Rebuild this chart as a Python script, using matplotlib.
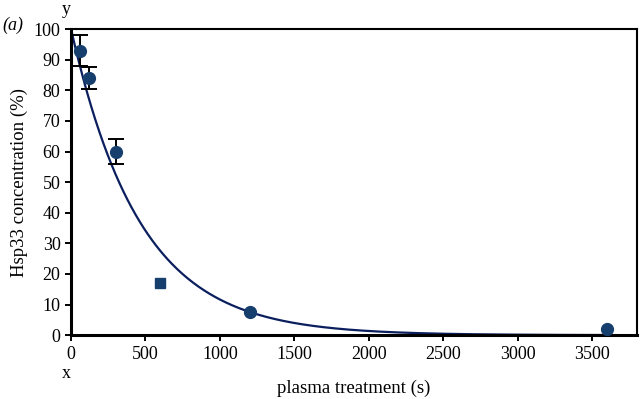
import matplotlib
matplotlib.use("Agg")
import matplotlib.pyplot as plt
import numpy as np

# measured points (circles with error bars)
times = [60, 120, 300, 1200, 3600]
conc = [93, 84, 60, 7.5, 2]
conc_err = [5, 3.5, 4.2, 0, 0]
# square point
sq_time = [600]
sq_conc = [17]
# exponential fit y = a * exp(-k t)
fit_a = 100
fit_k = 0.00215

plt.rcParams["font.family"] = ["Liberation Serif", "DejaVu Serif"]

fig = plt.figure(figsize=(6.4, 3.99), dpi=100)
ax = fig.add_axes([0.111, 0.160, 0.884, 0.767])

t = np.linspace(0, 3600, 400)
ax.plot(t, fit_a * np.exp(-fit_k * t), color="#0b1f5e", lw=1.6, zorder=2)
err_idx = [i for i, e in enumerate(conc_err) if e > 0]
ax.errorbar([times[i] for i in err_idx], [conc[i] for i in err_idx],
            yerr=[conc_err[i] for i in err_idx], fmt="none",
            ecolor="black", elinewidth=1.4, capsize=6, capthick=1.4, zorder=3)
ax.plot(times, conc, "o", color="#173f6e", markersize=8.5, zorder=4)
ax.plot(sq_time, sq_conc, "s", color="#173f6e", markersize=7.5, zorder=4)

ax.set_xlim(0, 3800)
ax.set_ylim(0, 100)
ax.set_xticks(np.arange(0, 3501, 500))
ax.set_yticks(np.arange(0, 101, 10))
ax.tick_params(direction="out", length=4, width=1.4, labelsize=13)
for side in ["left", "bottom"]:
    ax.spines[side].set_linewidth(2.2)
for side in ["top", "right"]:
    ax.spines[side].set_linewidth(1.5)

ax.set_xlabel("plasma treatment (s)", fontsize=13.5, labelpad=12)
ax.set_ylabel("Hsp33 concentration (%)", fontsize=13.5, labelpad=4)
fig.text(0.004, 0.937, "(a)", fontsize=13, style="italic", va="center")
fig.text(0.104, 0.955, "y", fontsize=13, va="bottom", ha="center")
fig.text(0.104, 0.085, "x", fontsize=13, va="top", ha="center")

fig.savefig("out.png", dpi=100)
